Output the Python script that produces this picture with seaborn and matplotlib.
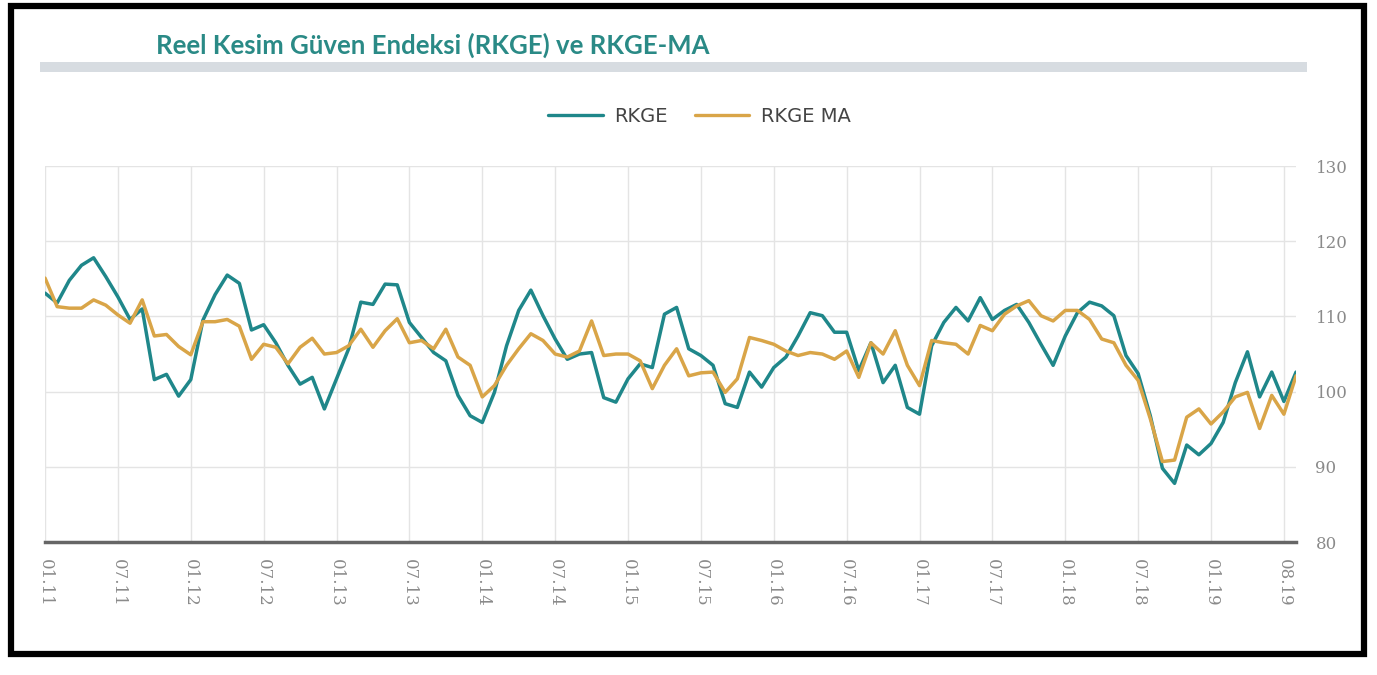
import numpy as np
import pandas as pd
import seaborn as sns
import matplotlib.pyplot as plt
from matplotlib.patches import Rectangle
from matplotlib.lines import Line2D

# monthly index values, 01.2011 - 08.2019
rkge = [113.1, 111.8, 114.8, 116.8, 117.8, 115.3, 112.6, 109.6, 111.0, 101.6,
        102.3, 99.4, 101.6, 109.5, 112.9, 115.5, 114.4, 108.2, 108.9, 106.5,
        103.5, 101.0, 101.9, 97.7, 101.7, 105.7, 111.9, 111.6, 114.3, 114.2,
        109.2, 107.2, 105.2, 104.1, 99.5, 96.8, 95.9, 99.9, 106.1, 110.8,
        113.5, 110.1, 107.0, 104.3, 105.0, 105.2, 99.2, 98.6, 101.7, 103.7,
        103.2, 110.3, 111.2, 105.7, 104.8, 103.5, 98.4, 97.9, 102.6, 100.6,
        103.2, 104.6, 107.4, 110.5, 110.1, 107.9, 107.9, 102.8, 106.5, 101.2,
        103.5, 97.9, 97.0, 106.1, 109.2, 111.2, 109.4, 112.5, 109.6, 110.8,
        111.6, 109.2, 106.3, 103.5, 107.4, 110.5, 111.9, 111.4, 110.1, 104.8,
        102.4, 96.8, 89.8, 87.8, 92.9, 91.6, 93.1, 95.9, 101.2, 105.3,
        99.3, 102.6, 98.7, 102.6]

rkge_ma = [115.1, 111.3, 111.1, 111.1, 112.2, 111.5, 110.2, 109.1, 112.2, 107.4,
           107.6, 106.0, 104.9, 109.3, 109.3, 109.6, 108.7, 104.3, 106.3, 105.9,
           103.7, 105.9, 107.1, 105.0, 105.2, 106.1, 108.3, 105.9, 108.1, 109.7,
           106.5, 106.8, 105.7, 108.3, 104.6, 103.5, 99.3, 100.8, 103.5, 105.7,
           107.7, 106.8, 105.0, 104.6, 105.4, 109.4, 104.8, 105.0, 105.0, 104.1,
           100.4, 103.5, 105.7, 102.1, 102.5, 102.6, 99.9, 101.7, 107.2, 106.8,
           106.3, 105.4, 104.8, 105.2, 105.0, 104.3, 105.4, 101.9, 106.5, 105.0,
           108.1, 103.5, 100.8, 106.8, 106.5, 106.3, 105.0, 108.8, 108.1, 110.3,
           111.4, 112.1, 110.1, 109.4, 110.8, 110.8, 109.6, 107.0, 106.5, 103.5,
           101.5, 96.4, 90.7, 90.9, 96.6, 97.7, 95.7, 97.3, 99.3, 99.9,
           95.1, 99.5, 97.0, 102.1]

tick_pos = [0, 6, 12, 18, 24, 30, 36, 42, 48, 54, 60, 66, 72, 78, 84, 90, 96, 102]
tick_labels = ['01.11', '07.11', '01.12', '07.12', '01.13', '07.13', '01.14', '07.14',
               '01.15', '07.15', '01.16', '07.16', '01.17', '07.17', '01.18', '07.18',
               '01.19', '08.19']

teal = '#1f878a'
gold = '#d9a548'

df = pd.DataFrame({'ay': np.arange(len(rkge)), 'RKGE': rkge, 'RKGE MA': rkge_ma})
long = df.melt(id_vars='ay', var_name='seri', value_name='deger')

sns.set_style('white')
plt.rcParams['font.family'] = ['DejaVu Sans']

fig = plt.figure(figsize=(13.77, 6.75), dpi=100)
ax = fig.add_axes([0.0327, 0.197, 0.9085, 0.557])

sns.lineplot(data=long, x='ay', y='deger', hue='seri', palette=[teal, gold],
             hue_order=['RKGE', 'RKGE MA'], linewidth=2.5, ax=ax, legend=False)

ax.set_xlim(0, 103)
ax.set_ylim(80, 130)
ax.set_yticks([80, 90, 100, 110, 120, 130])
ax.set_xticks(tick_pos)
ax.set_xticklabels(tick_labels, rotation=270, family='DejaVu Serif', fontsize=12, color='#8a8a8a')
ax.yaxis.tick_right()
for lab in ax.get_yticklabels():
    lab.set_family('DejaVu Serif')
    lab.set_fontsize(12)
    lab.set_color('#8a8a8a')
ax.tick_params(axis='y', length=0, pad=14)
ax.tick_params(axis='x', length=7, width=2, color='#333333', direction='inout', pad=9)
ax.set_xlabel('')
ax.set_ylabel('')
ax.grid(True, color='#e4e4e4', linewidth=1)
for s in ['top', 'left', 'right']:
    ax.spines[s].set_visible(False)
ax.spines['bottom'].set_color('#666666')
ax.spines['bottom'].set_linewidth(2.5)

# legend
handles = [Line2D([0], [0], color=teal, lw=2.4), Line2D([0], [0], color=gold, lw=2.4)]
fig.legend(handles, ['RKGE', 'RKGE MA'], loc='center', bbox_to_anchor=(0.508, 0.827),
           ncol=2, frameon=False, fontsize=14, handlelength=2.8, handletextpad=0.6,
           columnspacing=1.4, labelcolor='#444444')

# title and grey band
fig.text(0.113, 0.933, 'Reel Kesim Güven Endeksi (RKGE) ve RKGE-MA', fontsize=18.5,
         color='#2a8a86', family='Lato', weight='bold', va='center')
fig.add_artist(Rectangle((40 / 1377, 1 - 72 / 675), 1267 / 1377, 10 / 675,
                         transform=fig.transFigure, color='#d7dce1', lw=0))

# black frame
fig.add_artist(Rectangle((11 / 1377, 1 - 654 / 675), 1353 / 1377, 648 / 675,
                         transform=fig.transFigure, fill=False, edgecolor='black', lw=4.5))

fig.savefig('out.png', dpi=100)
